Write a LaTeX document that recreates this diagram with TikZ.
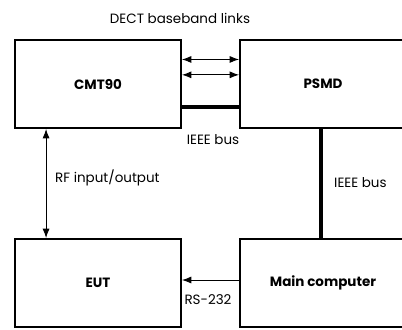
\documentclass[tikz,border=0pt]{standalone}
\usepackage{fontspec}
\setmainfont{Poppins}
\usetikzlibrary{arrows.meta,calc}
\tikzset{
  unitbox/.style={draw, line width=1.6pt, minimum height=88*0.03cm, font=\bfseries\fontsize{11.5}{13}\selectfont},
  lbl/.style={font=\fontsize{11.5}{13}\selectfont},
  link/.style={{Latex[length=8pt,width=6pt]}-{Latex[length=8pt,width=6pt]}, line width=0.8pt},
  bus/.style={line width=3.4pt}
}
\begin{document}
\begin{tikzpicture}[x=0.03cm, y=-0.03cm]
\useasboundingbox (0,0) rectangle (402,329);
\clip (0,0) rectangle (402,329);

% Units
\node[unitbox, minimum width=166*0.03cm] (cmt) at (98,84) {CMT90};
\node[unitbox, minimum width=200*0.03cm] (psmd) at (340,84) {\hspace*{-34\dimexpr0.03cm\relax}PSMD};
\node[unitbox, minimum width=166*0.03cm] (eut) at (98,283) {EUT};
\node[unitbox, minimum width=200*0.03cm] (main) at (340,283) {\hspace*{-34\dimexpr0.03cm\relax}Main computer};

% DECT baseband links
\coordinate (l1) at ($(cmt.north east)!0.227!(cmt.south east)$);
\coordinate (l2) at ($(cmt.north east)!0.398!(cmt.south east)$);
\draw[link] (l1) -- (l1 -| psmd.west);
\draw[link] (l2) -- (l2 -| psmd.west);
\node[lbl] (dect) at (180,18) {DECT baseband links};

% IEEE bus between CMT90 and PSMD
\coordinate (b1) at ($(cmt.north east)!0.761!(cmt.south east)$);
\draw[bus] (b1) -- (b1 -| psmd.west);
\node[lbl] (ieee1) at (213,140) {IEEE bus};

% IEEE bus to main computer
\coordinate (b2) at ($(psmd.south west)+(82,0)$);
\draw[bus] (b2) -- (b2 |- main.north);
\node[lbl, right] (ieee2) at ($(b2)+(9,54)$) {IEEE bus};

% RF input/output
\coordinate (rf) at ($(cmt.south west)+(32,0)$);
\draw[link] (rf) -- (rf |- eut.north);
\node[lbl, right] (rflbl) at ($(rf)+(5,49)$) {RF input/output};

% RS-232
\draw[-{Latex[length=8pt,width=6pt]}, line width=0.8pt] ($(main.west)+(0,-3)$) -- ($(eut.east)+(0,-3)$);
\node[lbl] (rs) at (208,300) {RS-232};
\end{tikzpicture}
\end{document}
